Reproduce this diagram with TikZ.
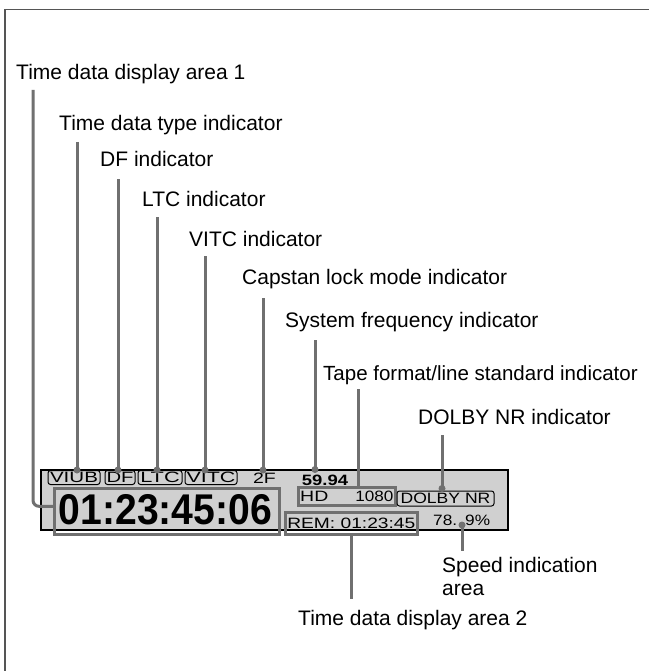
\documentclass[tikz,border=0pt]{standalone}
\usepackage{fontspec}
\setmainfont{Liberation Sans}
\usetikzlibrary{calc}
\definecolor{leadgray}{HTML}{707070}
\definecolor{lcdfill}{HTML}{D0D0D0}
\definecolor{framegray}{HTML}{555555}
\newcommand{\lcdx}[2]{\scalebox{#1}[1]{#2}}
\begin{document}
\begin{tikzpicture}[x=1pt,y=-1pt,
  lbl/.style={anchor=base west,inner sep=0pt,font=\fontsize{21}{24}\selectfont},
  lead/.style={draw=leadgray,line width=3pt},
  tipdot/.style={fill=leadgray},
  lcdtext/.style={inner sep=0pt,font=\fontsize{15}{15}\selectfont},
  indbox/.style={draw=black,line width=1pt,rounded corners=2.5pt,inner sep=0pt,minimum height=14pt,font=\fontsize{15}{15}\selectfont},
  hibox/.style={draw=leadgray,line width=2.6pt,inner sep=0pt,anchor=north west},
]
\useasboundingbox (0,0) rectangle (648,671);
\fill[white] (0,0) rectangle (648,671);
\draw[framegray,line width=1.5pt] (660,9.5) -- (5,9.5) -- (5,680);

% LCD panel
\node[draw=black,fill=lcdfill,line width=1.8pt,inner sep=0pt,minimum width=467pt,minimum height=60pt,anchor=north west] (panel) at (40,469) {};
\node[hibox,minimum width=225pt,minimum height=46pt] (td1) at (53,487) {};
\node[inner sep=0pt,anchor=base,font=\fontsize{43}{43}\selectfont\bfseries] (digits) at (165.5,524) {\lcdx{0.91}{01:23:45:06}};

\node[indbox,minimum width=52pt] (viub) at (74,477.5) {\lcdx{1.37}{VIUB}};
\node[indbox,minimum width=30pt] (df) at (120,477.5) {\lcdx{1.35}{DF}};
\node[indbox,minimum width=44pt] (ltc) at (160,477.5) {\lcdx{1.45}{LTC}};
\node[indbox,minimum width=52pt] (vitc) at (211,477.5) {\lcdx{1.43}{VITC}};
\node[lcdtext] (cap) at (264.5,478.5) {\lcdx{1.3}{2F}};
\node[lcdtext,font=\fontsize{15}{15}\selectfont\bfseries] (freq) at (325,480) {\lcdx{1.23}{59.94}};
\node[hibox,minimum width=97pt,minimum height=18pt] (hd) at (297,486) {};
\node[lcdtext,anchor=west] (hdtxt) at ([xshift=3pt]hd.west) {\lcdx{1.3}{HD}};
\node[lcdtext,anchor=east] (lines) at ([xshift=-3pt]hd.east) {\lcdx{1.14}{1080}};
\node[indbox,minimum width=97pt,minimum height=15pt] (dolby) at (445.5,498.5) {\lcdx{1.17}{DOLBY NR}};
\node[hibox,minimum width=132pt,minimum height=22pt] (rem) at (284,511) {};
\node[lcdtext] (remtxt) at (rem.center) {\lcdx{1.28}{REM: 01:23:45}};
\node[lcdtext,anchor=west] (spd) at (433,520) {\lcdx{1.15}{78.}\hspace{8pt}\lcdx{1.15}{9\%}};

% labels
\node[lbl] (l1) at (16,80) {Time data display area 1};
\node[lbl] (l2) at (59,131) {Time data type indicator};
\node[lbl] (l3) at (100,167) {DF indicator};
\node[lbl] (l4) at (142,206) {LTC indicator};
\node[lbl] (l5) at (189,246) {VITC indicator};
\node[lbl] (l6) at (242,284) {Capstan lock mode indicator};
\node[lbl] (l7) at (285,327) {System frequency indicator};
\node[lbl,font=\fontsize{20.5}{24}\selectfont] (l8) at (323,380) {Tape format/line standard indicator};
\node[lbl] (l9) at (418,424) {DOLBY NR indicator};
\node[lbl,anchor=north west,align=left,font=\fontsize{21}{23.5}\selectfont] (l10) at (442,557) {Speed indication\\area};
\node[lbl] (l11) at (298,625.5) {Time data display area 2};

% leaders
\coordinate (t1) at ([shift={(17,10)}]l1.base west);
\coordinate (h1) at ([yshift=5pt]td1.west);
\draw[lead,rounded corners=6pt] (t1) -- (t1 |- h1) -- (h1);

\coordinate (t2) at ([shift={(18,11)}]l2.base west);
\draw[lead] (t2) -- (t2 |- viub.north);
\fill[tipdot] (t2 |- viub.north) circle (3.5);

\coordinate (t3) at ([shift={(18,12)}]l3.base west);
\draw[lead] (t3) -- (t3 |- df.north);
\fill[tipdot] (t3 |- df.north) circle (3.5);

\coordinate (t4) at ([shift={(15,11)}]l4.base west);
\draw[lead] (t4) -- (t4 |- ltc.north);
\fill[tipdot] (t4 |- ltc.north) circle (3.5);

\coordinate (t5) at ([shift={(16,10)}]l5.base west);
\draw[lead] (t5) -- (t5 |- vitc.north);
\fill[tipdot] (t5 |- vitc.north) circle (3.5);

\coordinate (t6) at ([shift={(21,14)}]l6.base west);
\coordinate (d6) at ($(t6 |- cap.north)+(0,-3)$);
\draw[lead] (t6) -- (d6);
\fill[tipdot] (d6) circle (3.5);

\coordinate (t7) at ([shift={(30,13)}]l7.base west);
\coordinate (d7) at ($(t7 |- freq.north)+(0,-5)$);
\draw[lead] (t7) -- (d7);
\fill[tipdot] (d7) circle (3.5);

\coordinate (t8) at ([shift={(35,9)}]l8.base west);
\draw[lead] (t8) -- (t8 |- hd.north);

\coordinate (t9) at ([shift={(24,11)}]l9.base west);
\coordinate (d9) at ($(t9 |- dolby.north)+(0,-2)$);
\draw[lead] (t9) -- (d9);
\fill[tipdot] (d9) circle (3.5);

\coordinate (spdot) at (462,525);
\draw[lead] (spdot) -- ($(spdot |- l10.north)+(0,-6)$);
\fill[tipdot] (spdot) circle (3.5);

\draw[lead] (rem.south) -- ($(rem.south |- l11.north)+(0,-11)$);
\end{tikzpicture}
\end{document}
